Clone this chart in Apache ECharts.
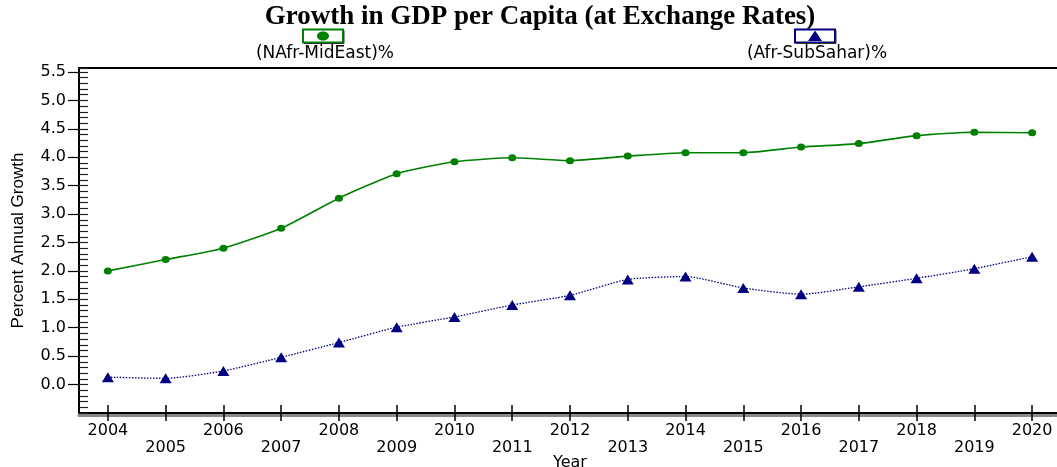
<!DOCTYPE html>
<html><head><meta charset="utf-8">
<script src="https://cdn.jsdelivr.net/npm/echarts@6/dist/echarts.min.js"></script>
<style>html,body{margin:0;padding:0;background:#fff}#c{width:1057px;height:467px}</style>
</head><body><div id="c"></div>
<script>
const titleText = 'Growth in GDP per Capita (at Exchange Rates)';
const years = ['2004','2005','2006','2007','2008','2009','2010','2011','2012','2013','2014','2015','2016','2017','2018','2019','2020'];
const nafrMidEast = [2.00, 2.20, 2.40, 2.75, 3.28, 3.71, 3.92, 3.99, 3.94, 4.02, 4.08, 4.08, 4.18, 4.24, 4.38, 4.44, 4.43];
const afrSubSahar = [0.13, 0.11, 0.24, 0.48, 0.74, 1.01, 1.19, 1.40, 1.57, 1.85, 1.90, 1.70, 1.59, 1.72, 1.87, 2.04, 2.25];
const seriesNames = ['(NAfr-MidEast)%', '(Afr-SubSahar)%'];
const yTickValues = [0, 0.5, 1, 1.5, 2, 2.5, 3, 3.5, 4, 4.5, 5, 5.5];
const yName = 'Percent Annual Growth';
const xName = 'Year';

const GREEN = '#008000', NAVY = '#000080';
const LBL = 'DejaVu Sans';

const chart = echarts.init(document.getElementById('c'), null, {renderer: 'canvas'});

function legendItem(cx, color, kind, label) {
  const kids = [
    {type: 'rect', shape: {x: cx - 20, y: 29.5, width: 40, height: 13}, style: {fill: '#fff', stroke: color, lineWidth: 2}},
    {type: 'line', shape: {x1: cx - 19, y1: 43.5, x2: cx + 21, y2: 43.5}, style: {stroke: '#333', lineWidth: 1}},
    {type: 'line', shape: {x1: cx + 21, y1: 30.5, x2: cx + 21, y2: 43.5}, style: {stroke: '#333', lineWidth: 1}}
  ];
  if (kind === 'circle') {
    kids.push({type: 'ellipse', shape: {cx: cx, cy: 36, rx: 6, ry: 4.5}, style: {fill: color}});
  } else {
    kids.push({type: 'polygon', shape: {points: [[cx, 30.5], [cx - 7, 41], [cx + 7, 41]]}, style: {fill: color}});
  }
  kids.push({type: 'text', style: {text: label, x: cx + 2, y: 54, align: 'center', verticalAlign: 'middle', font: '17px "' + LBL + '"', fill: '#000'}});
  return {type: 'group', children: kids};
}

const option = {
  animation: false,
  backgroundColor: '#fff',
  grid: {left: 79, right: -4, top: 68, bottom: 54, containLabel: false, outerBoundsMode: 'none'},
  graphic: [
    {type: 'text', style: {text: titleText, x: 540, y: 17, align: 'center', verticalAlign: 'middle', font: 'bold 27px "Liberation Serif"', fill: '#000'}},
    legendItem(323, GREEN, 'circle', seriesNames[0]),
    legendItem(815, NAVY, 'triangle', seriesNames[1])
  ],
  xAxis: [
    {
      type: 'category', data: years, position: 'bottom', boundaryGap: true,
      name: xName, nameLocation: 'middle', nameGap: 42, nameMoveOverlap: false,
      nameTextStyle: {fontFamily: LBL, fontSize: 16, color: '#000'},
      axisLine: {show: true, onZero: false, lineStyle: {color: '#000', width: 2}},
      axisTick: {show: true, alignWithLabel: true, length: 8, lineStyle: {color: '#000', width: 1.5}},
      axisLabel: {show: true, interval: 0, margin: 9, fontFamily: LBL, fontSize: 16, color: '#000', lineHeight: 17,
        formatter: (v, i) => (i % 2 ? '\n' + v : v)},
      splitLine: {show: false}, z: 5
    },
    {
      type: 'category', data: years, position: 'bottom', boundaryGap: true,
      axisLine: {show: false, onZero: false},
      axisTick: {show: true, inside: true, alignWithLabel: true, length: 8, lineStyle: {color: '#000', width: 1.5}},
      axisLabel: {show: false}, splitLine: {show: false}, z: 5
    },
    {
      type: 'category', data: years, position: 'bottom', offset: 2.5,
      axisLine: {show: true, onZero: false, lineStyle: {color: '#8a8a8a', width: 3}},
      axisTick: {show: false}, axisLabel: {show: false}, splitLine: {show: false}, z: 1
    },
    {
      type: 'category', data: years, position: 'top',
      axisLine: {show: true, onZero: false, lineStyle: {color: '#000', width: 2}},
      axisTick: {show: false}, axisLabel: {show: false}, splitLine: {show: false}, z: 5
    }
  ],
  yAxis: [
    {
      type: 'value', position: 'left', min: -0.5, max: 5.57, interval: 0.5,
      name: yName, nameLocation: 'middle', nameGap: 52, nameRotate: 90, nameMoveOverlap: false,
      nameTextStyle: {fontFamily: '"Liberation Sans Narrow", "Arial Narrow", "Liberation Sans"', fontSize: 17, color: '#000'},
      axisLine: {show: true, onZero: false, lineStyle: {color: '#000', width: 2}},
      axisTick: {show: true, length: 11, customValues: yTickValues, lineStyle: {color: '#000', width: 1.2}},
      axisLabel: {show: true, margin: 13, customValues: yTickValues, fontFamily: LBL, fontSize: 16, color: '#000',
        formatter: v => v.toFixed(1)},
      splitLine: {show: false}, z: 5
    },
    {
      type: 'value', position: 'left', min: -0.5, max: 5.57, interval: 0.1,
      axisLine: {show: false, onZero: false},
      axisTick: {show: true, inside: true, length: 9, lineStyle: {color: '#222', width: 1.2}},
      axisLabel: {show: false}, splitLine: {show: false}, z: 5
    }
  ],
  series: [
    {
      name: seriesNames[0], type: 'line', xAxisIndex: 0, yAxisIndex: 0, data: nafrMidEast,
      smooth: 0.2, symbol: 'circle', symbolSize: [8, 7],
      itemStyle: {color: GREEN}, lineStyle: {color: GREEN, width: 1.6}, z: 3
    },
    {
      name: seriesNames[1], type: 'line', xAxisIndex: 0, yAxisIndex: 0, data: afrSubSahar,
      smooth: 0.2, symbol: 'triangle', symbolSize: [12, 10],
      itemStyle: {color: NAVY}, lineStyle: {color: NAVY, width: 1.3, type: [1.5, 1.5]}, z: 3
    }
  ]
};
chart.setOption(option);
</script></body></html>
